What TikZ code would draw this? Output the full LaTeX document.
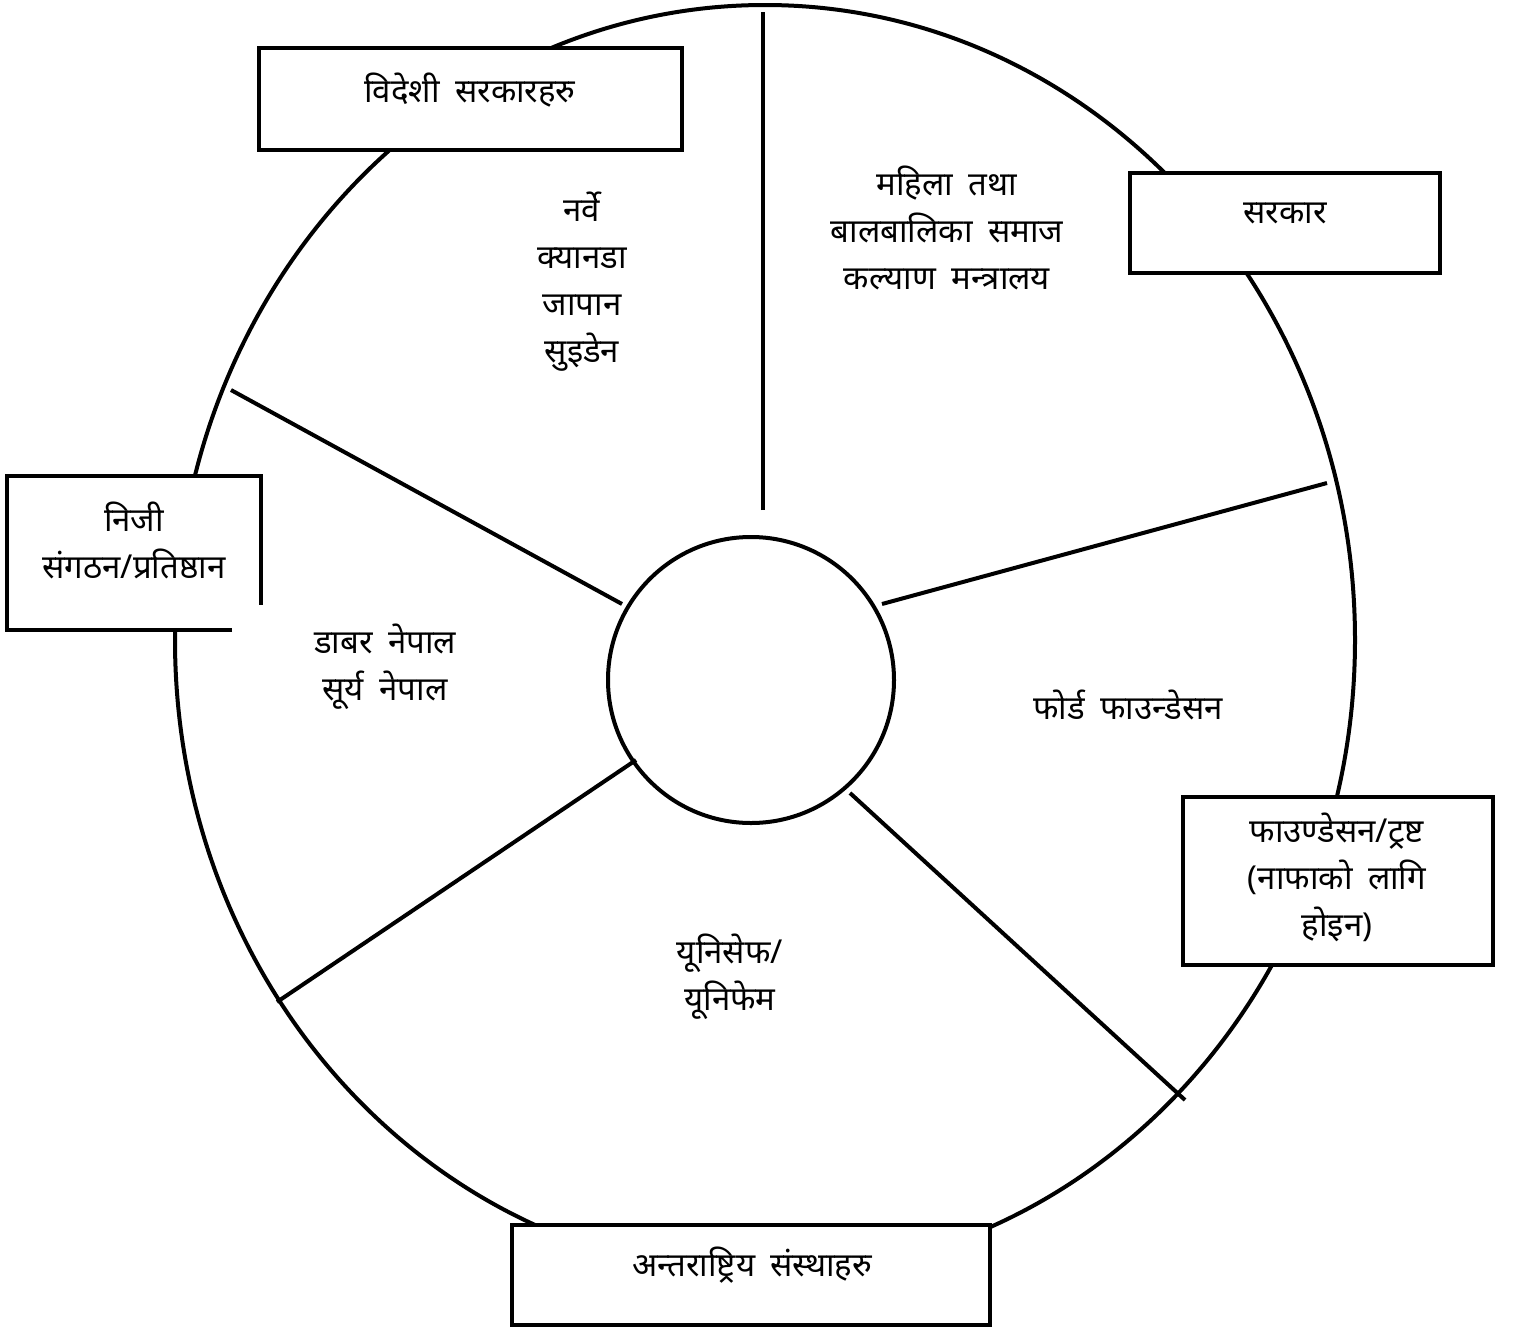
\documentclass[tikz,border=0pt]{standalone}
\usepackage{fontspec}
\newfontfamily\dev[Script=Devanagari, WordSpace=1.8]{Noto Sans}
\begin{document}
\begin{tikzpicture}[x=0.5pt,y=-0.5pt,line width=2pt,
  lbl/.style={font=\dev\fontsize{16.5}{23.5}\selectfont, align=center, inner sep=0pt}]
\useasboundingbox (0,0) rectangle (1516,1328);
% outer wheel
\draw (765,640) ellipse [x radius=295pt, y radius=317.5pt];
% hub
\node (hub) [draw, circle, minimum size=143pt, inner sep=0pt] at (751,680) {};
% spoke end points
\coordinate (s1a) at (763,510); \coordinate (s1b) at (763,12);
\coordinate (s2a) at (882,604); \coordinate (s2b) at (1327,483);
\coordinate (s3a) at (850,793); \coordinate (s3b) at (1185,1100);
\coordinate (s4a) at (636,760); \coordinate (s4b) at (277,1002);
\coordinate (s5a) at (622,604); \coordinate (s5b) at (231,390);
\foreach \i in {1,...,5} {\draw (s\i a) -- (s\i b);}
% boxes
\node (b1) [draw, fill=white, minimum width=211.5pt, minimum height=51pt, inner sep=0pt] at (470.5,99) {};
\node (b2) [draw, fill=white, minimum width=155pt, minimum height=50pt, inner sep=0pt] at (1285,223) {};
\node (b4) [draw, fill=white, minimum width=155pt, minimum height=84pt, inner sep=0pt] at (1338,881) {};
\node (b5) [draw, fill=white, minimum width=239pt, minimum height=50pt, inner sep=0pt] at (751,1275) {};
% private-sector box with open corner
\fill[white] (7,476) rectangle (261,630);
\draw (232,630) -- (7,630) -- (7,476) -- (261,476) -- (261,605);
% box labels
\node (t1) [lbl] at (470,90) {विदेशी सरकारहरु};
\node (t2) [lbl] at (1285,213) {सरकार};
\node (t3) [lbl] at (134,540) {निजी\\संगठन/प्रतिष्ठान};
\node (t4) [lbl] at (1337,877) {फाउण्डेसन/ट्रष्ट\\(नाफाको लागि\\होइन)};
\node (t5) [lbl] at (752,1265) {अन्तराष्ट्रिय संस्थाहरु};
% sector labels
\node (l1) [lbl] at (582,282) {नर्वे\\क्यानडा\\जापान\\सुइडेन};
\node (l2) [lbl] at (947,228) {महिला तथा\\बालबालिका समाज\\कल्याण मन्त्रालय};
\node (l3) [lbl] at (1128,705) {फोर्ड फाउन्डेसन};
\node (l4) [lbl] at (730,977) {यूनिसेफ/\\यूनिफेम};
\node (l5) [lbl] at (385,667) {डाबर नेपाल\\सूर्य नेपाल};
\end{tikzpicture}
\end{document}
